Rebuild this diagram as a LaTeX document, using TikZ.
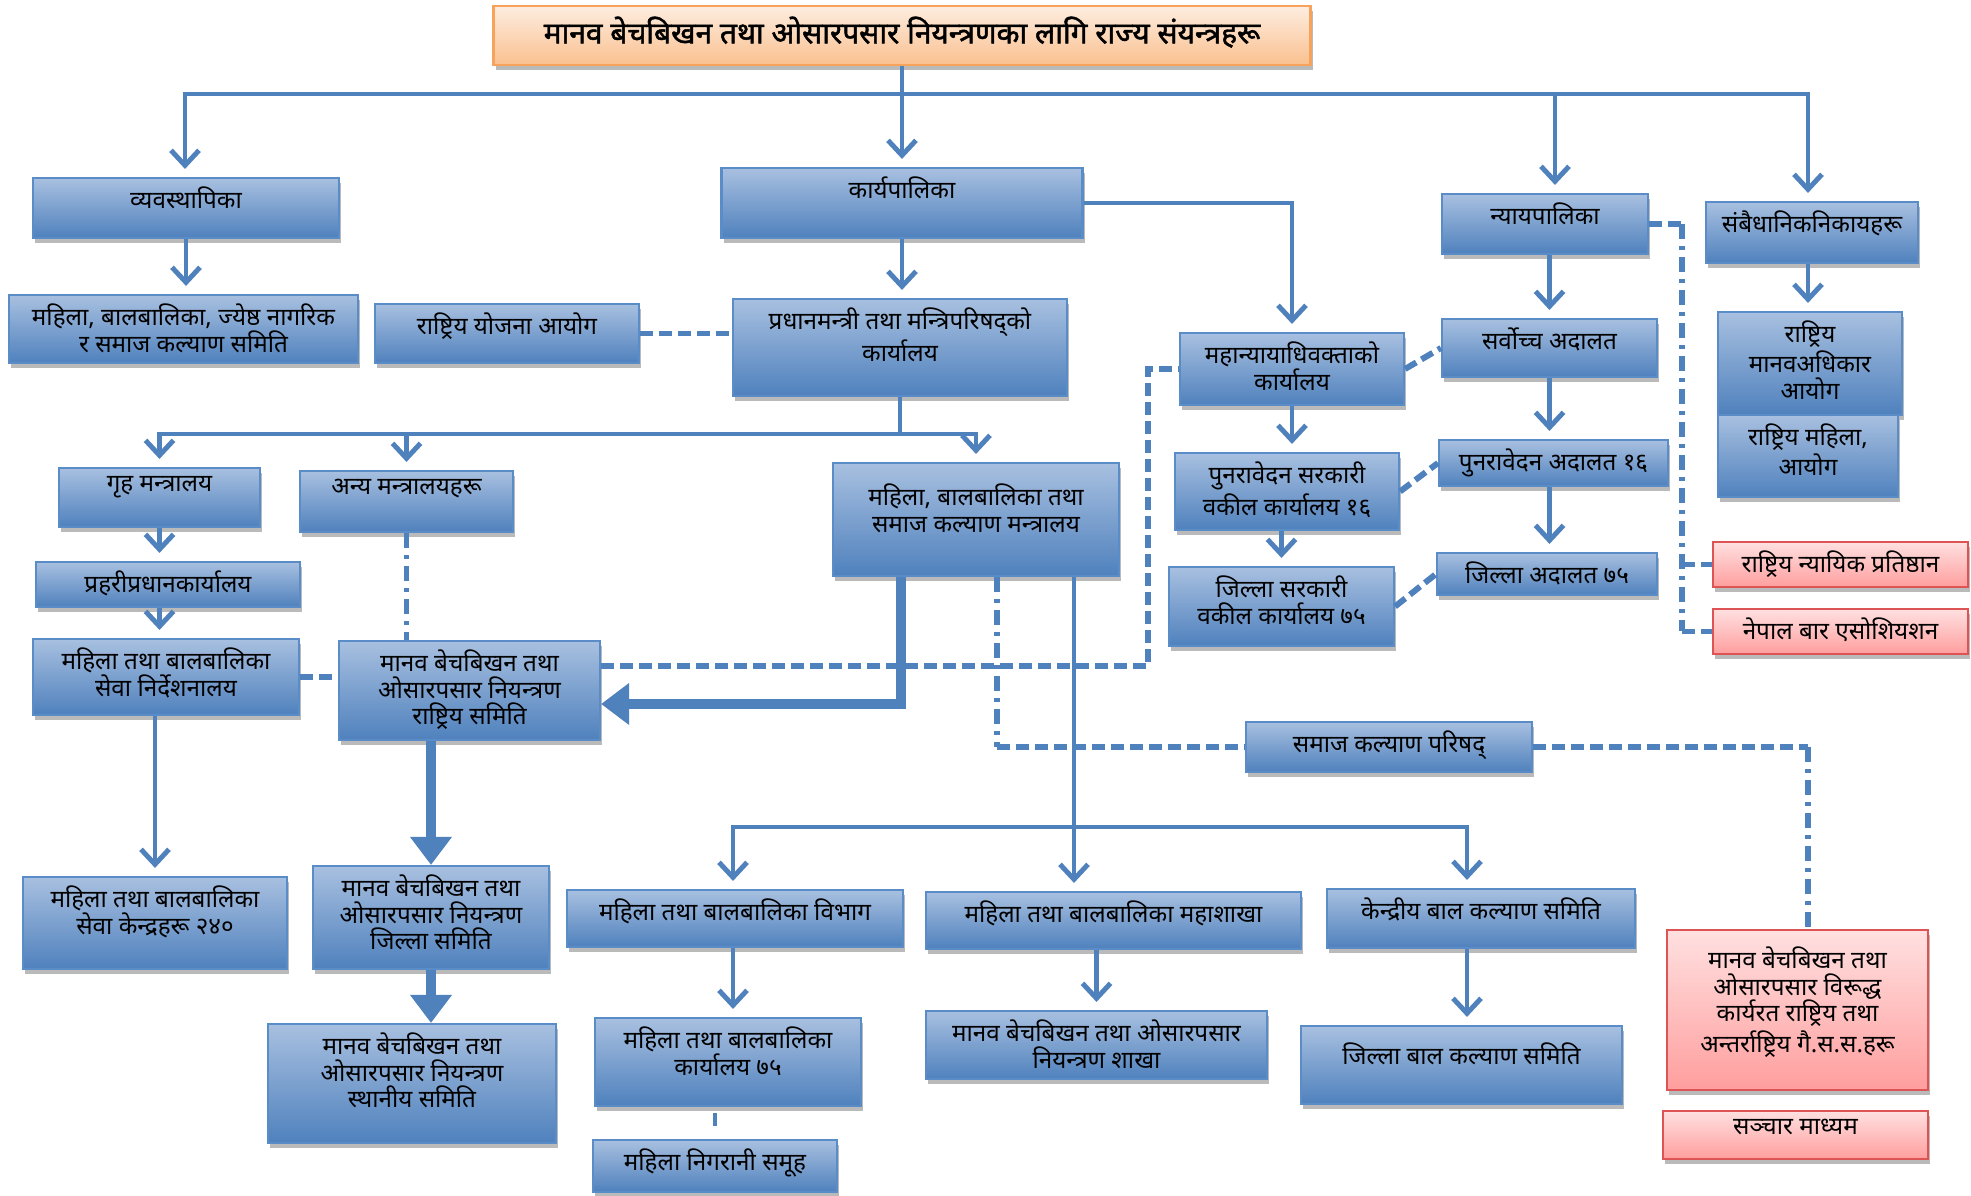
\documentclass[tikz,border=0pt]{standalone}
\usepackage{fontspec}
\newfontfamily\dev[Script=Devanagari]{Noto Sans}
\newfontfamily\devbold[Script=Devanagari, FakeBold=1.6]{Noto Sans}
\usetikzlibrary{arrows.meta,shadows}

\definecolor{lineblue}{RGB}{79,129,189}
\definecolor{boxtop}{RGB}{168,192,224}
\definecolor{boxbot}{RGB}{79,129,189}
\definecolor{boxedge}{RGB}{90,140,200}
\definecolor{pinktop}{RGB}{255,224,224}
\definecolor{pinkbot}{RGB}{255,158,158}
\definecolor{pinkedge}{RGB}{222,84,84}
\definecolor{peachtop}{RGB}{253,237,224}
\definecolor{peachbot}{RGB}{250,192,143}
\definecolor{peachedge}{RGB}{247,163,92}

\tikzset{
    blubox/.style={rectangle, draw=boxedge, line width=0.6pt, top color=boxtop, bottom color=boxbot,
        drop shadow={shadow xshift=0.02cm, shadow yshift=-0.05cm, fill=black!45, opacity=0.6}},
    pinkbox/.style={blubox, draw=pinkedge, top color=pinktop, bottom color=pinkbot},
    titlebox/.style={blubox, draw=peachedge, top color=peachtop, bottom color=peachbot},
    txt/.style={anchor=north, align=center, inner sep=0pt, yshift=-0.09cm},
    link/.style={draw=lineblue, line width=1.4pt},
    arr/.style={link, -{Straight Barb[length=0.15cm, width=0.28cm]}, shorten >=0.08cm},
    bigarr/.style={draw=lineblue, line width=3pt, -{Triangle[length=0.28cm, width=0.40cm]}},
    dashlink/.style={draw=lineblue, line width=1.7pt, dash pattern=on 0.13cm off 0.06cm},
    dotlink/.style={draw=lineblue, line width=1.7pt, dash pattern=on 0.15cm off 0.07cm on 0.04cm off 0.07cm},
}

\begin{document}
\begin{tikzpicture}[y=-1cm, every node/.style={font=\dev\fontsize{6.9}{7.6}\selectfont}]
    \path[use as bounding box, fill=white] (0,0) rectangle (19.71,11.96);

    \node (title) [titlebox, minimum width=8.17cm, minimum height=0.59cm, label={[txt, yshift=-0.02cm, font=\devbold\fontsize{8.5}{10}\selectfont]north:मानव बेचबिखन तथा ओसारपसार नियन्त्रणका लागि राज्य संयन्त्रहरू}] at (9.02,0.355) {};

    \node (vyav) [blubox, minimum width=3.06cm, minimum height=0.60cm, label={[txt]north:व्यवस्थापिका}] at (1.86,2.08) {};
    \node (karya) [blubox, minimum width=3.61cm, minimum height=0.70cm, label={[txt]north:कार्यपालिका}] at (9.02,2.03) {};
    \node (nyaya) [blubox, minimum width=2.06cm, minimum height=0.60cm, label={[txt]north:न्यायपालिका}] at (15.45,2.24) {};
    \node (sambai) [blubox, minimum width=2.12cm, minimum height=0.61cm, label={[txt]north:संबैधानिकनिकायहरू}] at (18.12,2.325) {};

    \node (samsamiti) [blubox, minimum width=3.49cm, minimum height=0.68cm, label={[txt]north:महिला, बालबालिका, ज्येष्ठ नागरिक\\र समाज कल्याण समिति}] at (1.835,3.29) {};
    \node (yojana) [blubox, minimum width=2.64cm, minimum height=0.59cm, label={[txt]north:राष्ट्रिय योजना आयोग}] at (5.07,3.335) {};
    \node (pm) [blubox, minimum width=3.34cm, minimum height=0.97cm, label={[txt]north:प्रधानमन्त्री तथा मन्त्रिपरिषद्को\\कार्यालय}] at (9.0,3.475) {};
    \node (mahanya) [blubox, minimum width=2.24cm, minimum height=0.72cm, label={[txt]north:महान्यायाधिवक्ताको\\कार्यालय}] at (12.92,3.69) {};
    \node (sarvo) [blubox, minimum width=2.15cm, minimum height=0.58cm, label={[txt]north:सर्वोच्च अदालत}] at (15.495,3.48) {};
    \node (manavadh) [blubox, minimum width=1.84cm, minimum height=1.03cm, label={[txt]north:राष्ट्रिय\\मानवअधिकार\\आयोग}] at (18.10,3.635) {};
    \node (mahilaayog) [blubox, minimum width=1.80cm, minimum height=0.82cm, label={[txt]north:राष्ट्रिय महिला,\\आयोग}] at (18.08,4.56) {};

    \node (griha) [blubox, minimum width=2.01cm, minimum height=0.59cm, label={[txt]north:गृह मन्त्रालय}] at (1.595,4.975) {};
    \node (anya) [blubox, minimum width=2.13cm, minimum height=0.61cm, label={[txt]north:अन्य मन्त्रालयहरू}] at (4.065,5.015) {};
    \node (mantralaya) [blubox, minimum width=2.86cm, minimum height=1.13cm, label={[txt, yshift=-0.12cm]north:महिला, बालबालिका तथा\\समाज कल्याण मन्त्रालय}] at (9.76,5.195) {};
    \node (punsar) [blubox, minimum width=2.24cm, minimum height=0.77cm, label={[txt]north:पुनरावेदन सरकारी\\वकील कार्यालय १६}] at (12.87,4.915) {};
    \node (punada) [blubox, minimum width=2.29cm, minimum height=0.46cm, label={[txt]north:पुनरावेदन अदालत १६}] at (15.535,4.63) {};
    \node (prahari) [blubox, minimum width=2.64cm, minimum height=0.45cm, label={[txt]north:प्रहरीप्रधानकार्यालय}] at (1.68,5.845) {};
    \node (jilsar) [blubox, minimum width=2.25cm, minimum height=0.79cm, label={[txt]north:जिल्ला सरकारी\\वकील कार्यालय ७५}] at (12.815,6.065) {};
    \node (jilada) [blubox, minimum width=2.20cm, minimum height=0.42cm, label={[txt]north:जिल्ला अदालत ७५}] at (15.47,5.74) {};
    \node (nyayik) [pinkbox, minimum width=2.55cm, minimum height=0.45cm, label={[txt]north:राष्ट्रिय न्यायिक प्रतिष्ठान}] at (18.405,5.645) {};
    \node (nepalbar) [pinkbox, minimum width=2.55cm, minimum height=0.45cm, label={[txt]north:नेपाल बार एसोशियशन}] at (18.405,6.315) {};

    \node (sevanir) [blubox, minimum width=2.66cm, minimum height=0.76cm, label={[txt]north:महिला तथा बालबालिका\\सेवा निर्देशनालय}] at (1.66,6.77) {};
    \node (rastsam) [blubox, minimum width=2.61cm, minimum height=0.99cm, label={[txt]north:मानव बेचबिखन तथा\\ओसारपसार नियन्त्रण\\राष्ट्रिय समिति}] at (4.695,6.905) {};
    \node (parishad) [blubox, minimum width=2.86cm, minimum height=0.50cm, label={[txt]north:समाज कल्याण परिषद्}] at (13.89,7.47) {};

    \node (sevaken) [blubox, minimum width=2.64cm, minimum height=0.92cm, label={[txt]north:महिला तथा बालबालिका\\सेवा केन्द्रहरू २४०}] at (1.55,9.23) {};
    \node (jilsam) [blubox, minimum width=2.36cm, minimum height=1.03cm, label={[txt]north:मानव बेचबिखन तथा\\ओसारपसार नियन्त्रण\\जिल्ला समिति}] at (4.31,9.175) {};
    \node (sthan) [blubox, minimum width=2.88cm, minimum height=1.19cm, label={[txt]north:मानव बेचबिखन तथा\\ओसारपसार नियन्त्रण\\स्थानीय समिति}] at (4.12,10.835) {};
    \node (vibhag) [blubox, minimum width=3.36cm, minimum height=0.57cm, label={[txt]north:महिला तथा बालबालिका विभाग}] at (7.35,9.185) {};
    \node (mahashakha) [blubox, minimum width=3.75cm, minimum height=0.57cm, label={[txt]north:महिला तथा बालबालिका महाशाखा}] at (11.135,9.205) {};
    \node (kendriya) [blubox, minimum width=3.08cm, minimum height=0.59cm, label={[txt]north:केन्द्रीय बाल कल्याण समिति}] at (14.81,9.185) {};
    \node (karyalaya) [blubox, minimum width=2.66cm, minimum height=0.88cm, label={[txt]north:महिला तथा बालबालिका\\कार्यालय ७५}] at (7.28,10.62) {};
    \node (shakha) [blubox, minimum width=3.41cm, minimum height=0.68cm, label={[txt]north:मानव बेचबिखन तथा ओसारपसार\\नियन्त्रण शाखा}] at (10.965,10.45) {};
    \node (jilbal) [blubox, minimum width=3.21cm, minimum height=0.78cm, label={[txt, yshift=-0.08cm]north:जिल्ला बाल कल्याण समिति}] at (14.615,10.65) {};
    \node (nigrani) [blubox, minimum width=2.44cm, minimum height=0.52cm, label={[txt]north:महिला निगरानी समूह}] at (7.15,11.66) {};
    \node (ngo) [pinkbox, minimum width=2.61cm, minimum height=1.60cm, label={[txt, yshift=-0.08cm]north:मानव बेचबिखन तथा\\ओसारपसार विरूद्ध\\कार्यरत राष्ट्रिय तथा\\अन्तर्राष्ट्रिय गै.स.स.हरू}] at (17.975,10.10) {};
    \node (sanchar) [pinkbox, minimum width=2.65cm, minimum height=0.48cm, label={[txt]north:सञ्चार माध्यम}] at (17.955,11.35) {};

    \coordinate (tbarl) at (1.85,0.94);
    \coordinate (tbarj) at (15.55,0.94);
    \coordinate (tbarr) at (18.08,0.94);
    \coordinate (pmj) at (9.0,4.34);
    \coordinate (rk) at (11.48,6.66);
    \coordinate (ml) at (9.01,7.04);
    \coordinate (mp) at (9.97,7.47);
    \coordinate (mb) at (10.74,8.27);
    \coordinate (mbl) at (7.33,8.27);
    \coordinate (mbr) at (14.67,8.27);
    \coordinate (pn) at (18.08,7.47);
    \coordinate (nj) at (16.82,2.24);

    \draw[arr] (title.south) -- (karya.north);
    \draw[arr] (tbarj) -- (tbarl) -- (tbarl |- vyav.north);
    \draw[arr] (tbarj) -- (tbarr) -- (tbarr |- sambai.north);
    \draw[arr] (tbarj) -- (tbarj |- nyaya.north);

    \draw[arr] (vyav.south) -- (vyav.south |- samsamiti.north);
    \draw[arr] (karya.south) -- (karya.south |- pm.north);
    \draw[arr] (karya.east) -- (karya.east -| mahanya.north) -- (mahanya.north);
    \draw[dashlink] (yojana.east) -- (yojana.east -| pm.west);

    \draw[link] (pm.south) -- (pmj);
    \draw[arr] (pmj) -| (griha.north);
    \draw[arr] (pmj) -| (anya.north);
    \draw[arr] (pmj) -| (mantralaya.north);

    \draw[arr] (griha.south) -- (griha.south |- prahari.north);
    \draw[arr] (griha.south |- prahari.south) -- (griha.south |- sevanir.north);
    \draw[arr] (sevaken.north |- sevanir.south) -- (sevaken.north);
    \draw[dashlink] (sevanir.east) -- (sevanir.east -| rastsam.west);
    \draw[dotlink] (anya.south) -- (anya.south |- rastsam.north);
    \draw[dashlink] (rastsam.east |- rk) -- (rk) |- (mahanya.west);

    \draw[bigarr] (mantralaya.south -| ml) -- (ml) -- (ml -| rastsam.east);
    \draw[dotlink] (mantralaya.south -| mp) -- (mp);
    \draw[dashlink] (mp) -- (parishad.west);
    \draw[arr] (mantralaya.south -| mb) -- (mb |- mahashakha.north);
    \draw[arr] (mb) -- (mbl) -- (mbl |- vibhag.north);
    \draw[arr] (mb) -- (mbr) -- (mbr |- kendriya.north);
    \draw[dashlink] (parishad.east) -- (pn);
    \draw[dotlink] (pn) -- (pn |- ngo.north);

    \draw[bigarr] (jilsam.north |- rastsam.south) -- (jilsam.north);
    \draw[bigarr] (jilsam.south) -- (jilsam.south |- sthan.north);
    \draw[arr] (mbl |- vibhag.south) -- (mbl |- karyalaya.north);
    \draw[link, shorten <=0.06cm, shorten >=0.13cm] (nigrani.north |- karyalaya.south) -- (nigrani.north);
    \draw[arr] (shakha.north |- mahashakha.south) -- (shakha.north);
    \draw[arr] (mbr |- kendriya.south) -- (mbr |- jilbal.north);

    \draw[arr] (tbarr |- sambai.south) -- (tbarr |- manavadh.north);
    \draw[arr] (sarvo.north |- nyaya.south) -- (sarvo.north);
    \draw[arr] (sarvo.south) -- (sarvo.south |- punada.north);
    \draw[arr] (sarvo.south |- punada.south) -- (sarvo.south |- jilada.north);
    \draw[arr] (mahanya.south) -- (mahanya.south |- punsar.north);
    \draw[arr] (jilsar.north |- punsar.south) -- (jilsar.north);
    \draw[dashlink] (mahanya.east) -- (sarvo.west);
    \draw[dashlink] (punsar.east) -- (punada.west);
    \draw[dashlink] (jilsar.east) -- (jilada.west);

    \draw[dashlink] (nyaya.east) -- (nj);
    \draw[dotlink] (nj) -- (nj |- nepalbar.west);
    \draw[dashlink] (nj |- nepalbar.west) -- (nepalbar.west);
    \draw[dashlink] (nj |- nyayik.west) -- (nyayik.west);
\end{tikzpicture}
\end{document}
